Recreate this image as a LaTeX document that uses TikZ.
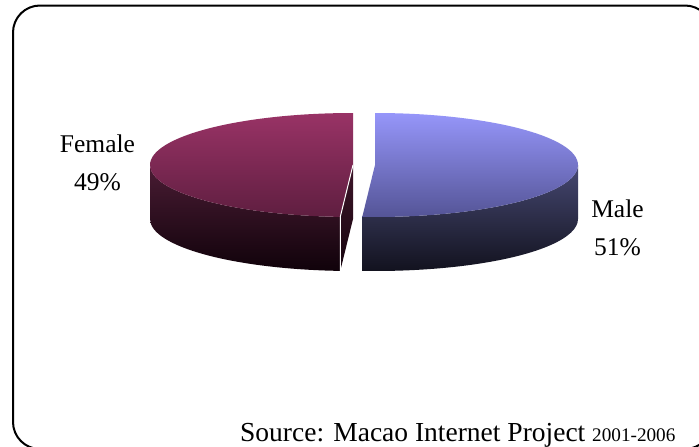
\documentclass[tikz,border=0pt]{standalone}
\usepackage{fontspec}
\setmainfont{Liberation Serif}
\usetikzlibrary{calc}
\definecolor{femTopT}{RGB}{153,51,102}
\definecolor{femTopB}{RGB}{95,30,64}
\definecolor{femSideT}{RGB}{74,28,52}
\definecolor{femSideB}{RGB}{16,2,10}
\definecolor{femCutT}{RGB}{62,22,42}
\definecolor{femCutB}{RGB}{22,4,14}
\definecolor{maleTopT}{RGB}{150,150,250}
\definecolor{maleTopB}{RGB}{84,84,150}
\definecolor{maleSideT}{RGB}{70,72,114}
\definecolor{maleSideB}{RGB}{18,18,30}
\tikzset{
  pielabel/.style={font=\fontsize{25.5}{38}\selectfont, align=center, inner sep=0pt},
  pieR/.style={x radius=203, y radius=52}
}
\begin{document}
\begin{tikzpicture}[x=1pt,y=-1pt]
\useasboundingbox (0,0) rectangle (699,447);
\fill[white] (0,0) rectangle (699,447);
% outer frame
\draw[line width=2, rounded corners=27] (13,5.5) rectangle (712,449);

% slice centres (top face)
\coordinate (F) at (353,165);
\coordinate (M) at (375,165);

% Female slice: outer side, cut face, top
\shade[top color=femSideT, bottom color=femSideB]
  ($(F)+(-180:203 and 52)$) arc[start angle=-180, end angle=-266.4, pieR]
  -- ++(0,54) arc[start angle=-266.4, end angle=-180, pieR] -- cycle;
\coordinate (Fe) at ($(F)+(-266.4:203 and 52)$);
\shade[top color=femCutT, bottom color=femCutB]
  (F) -- (Fe) -- ++(0,54) -- ($(F)+(0,54)$) -- cycle;
\shade[top color=femTopT, bottom color=femTopB]
  (F) -- ($(F)+(-90:203 and 52)$) arc[start angle=-90, end angle=-266.4, pieR] -- cycle;
\draw[white, line width=1] (F) -- (Fe) -- ++(0,54);

% Male slice: outer side, top
\shade[top color=maleSideT, bottom color=maleSideB]
  ($(M)+(93.6:203 and 52)$) arc[start angle=93.6, end angle=0, pieR]
  -- ++(0,54) arc[start angle=0, end angle=93.6, pieR] -- cycle;
\shade[top color=maleTopT, bottom color=maleTopB]
  (M) -- ($(M)+(-90:203 and 52)$) arc[start angle=-90, end angle=93.6, pieR] -- cycle;

% labels (base anchor sits on the last line)
\node[pielabel, anchor=base] (female) at (97.5,190) {Female\\49\%};
\node[pielabel, anchor=base] (male) at (617.5,255) {Male\\51\%};

% source line
\node[anchor=base west, inner sep=0pt] (source) at (240,441)
  {\fontsize{27.5}{30}\selectfont Source: Macao Internet Project {\fontsize{19.2}{22}\selectfont 2001-2006}};
\end{tikzpicture}
\end{document}
